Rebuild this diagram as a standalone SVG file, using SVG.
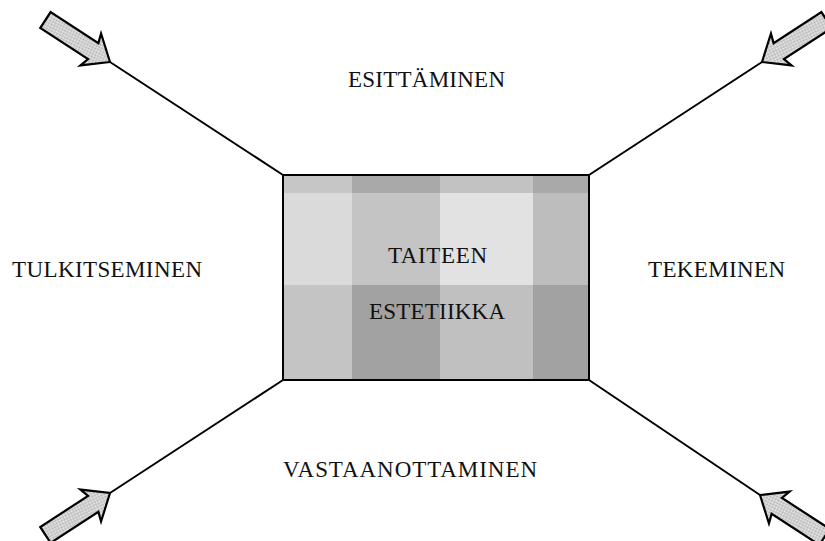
<svg xmlns="http://www.w3.org/2000/svg" width="825" height="541" viewBox="0 0 825 541">
  <defs>
    <pattern id="dots" width="2" height="2" patternUnits="userSpaceOnUse">
      <rect width="2" height="2" fill="#efefef"/>
      <rect width="1" height="1" fill="#b0b0b0"/>
      <rect x="1" y="1" width="1" height="1" fill="#b0b0b0"/>
    </pattern>
    <!-- block arrow, tip at the origin, pointing along +x -->
    <polygon id="block-arrow" points="0,0 -23,19 -20,9.5 -77,9.5 -77,-9.5 -20,-9.5 -23,-19" fill="url(#dots)" stroke="#000" stroke-width="2.2" stroke-linejoin="miter"/>
  </defs>
  <style>
    .lbl { font-family: "Liberation Serif", "Times New Roman", serif; font-size: 23px; fill: #111; }
    .link { stroke: #000; stroke-width: 2; fill: none; }
  </style>
  <rect width="825" height="541" fill="#fff"/>

  <g id="connectors">
    <line class="link" x1="110" y1="62" x2="283" y2="175"/>
    <line class="link" x1="762" y1="62" x2="589" y2="175"/>
    <line class="link" x1="110" y1="493" x2="283" y2="380"/>
    <line class="link" x1="760" y1="495" x2="589" y2="380"/>
  </g>

  <g id="arrows">
    <use href="#block-arrow" transform="translate(110,62) rotate(33)"/>
    <use href="#block-arrow" transform="translate(762,62) rotate(147)"/>
    <use href="#block-arrow" transform="translate(110,493) rotate(-33)"/>
    <use href="#block-arrow" transform="translate(760,495) rotate(213)"/>
  </g>

  <g id="center">
    <!-- plaid of grey tones -->
    <rect x="283" y="175" width="69" height="18" fill="#c6c6c6"/>
    <rect x="352" y="175" width="88" height="18" fill="#a9a9a9"/>
    <rect x="440" y="175" width="93" height="18" fill="#c2c2c2"/>
    <rect x="533" y="175" width="56" height="18" fill="#a9a9a9"/>
    <rect x="283" y="193" width="69" height="92" fill="#dadada"/>
    <rect x="352" y="193" width="88" height="92" fill="#c4c4c4"/>
    <rect x="440" y="193" width="93" height="92" fill="#e2e2e2"/>
    <rect x="533" y="193" width="56" height="92" fill="#bdbdbd"/>
    <rect x="283" y="285" width="69" height="95" fill="#c4c4c4"/>
    <rect x="352" y="285" width="88" height="95" fill="#a2a2a2"/>
    <rect x="440" y="285" width="93" height="95" fill="#c0c0c0"/>
    <rect x="533" y="285" width="56" height="95" fill="#a2a2a2"/>
    <rect x="283" y="175" width="306" height="205" fill="none" stroke="#000" stroke-width="2"/>
    <text class="lbl" x="388" y="263" textLength="99" lengthAdjust="spacing">TAITEEN</text>
    <text class="lbl" x="369" y="319" textLength="136" lengthAdjust="spacing">ESTETIIKKA</text>
  </g>

  <g id="esittaminen"><text class="lbl" x="348" y="87" textLength="157" lengthAdjust="spacing">ESITTÄMINEN</text></g>
  <g id="tulkitseminen"><text class="lbl" x="12" y="277" textLength="190" lengthAdjust="spacing">TULKITSEMINEN</text></g>
  <g id="tekeminen"><text class="lbl" x="648" y="277" textLength="137" lengthAdjust="spacing">TEKEMINEN</text></g>
  <g id="vastaanottaminen"><text class="lbl" x="283" y="477" textLength="254" lengthAdjust="spacing">VASTAANOTTAMINEN</text></g>
</svg>
